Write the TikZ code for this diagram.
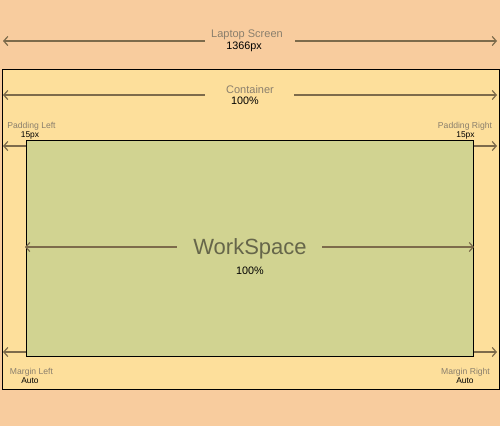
\documentclass[tikz,border=0pt]{standalone}
\usepackage{fontspec}
\setmainfont{Liberation Sans}
\usetikzlibrary{arrows.meta}
\definecolor{screenbg}{HTML}{F8CC9E}
\definecolor{boxbg}{HTML}{FDDF9B}
\definecolor{wsbg}{HTML}{D1D391}
\definecolor{dimcol}{HTML}{7D6B4B}
\definecolor{greytext}{HTML}{8A7F6D}
\definecolor{wstext}{HTML}{66664A}
\begin{document}
\begin{tikzpicture}[x=1pt,y=-1pt,
  dim/.style={draw=dimcol, line width=1.2pt, -{Straight Barb[length=4pt,width=9pt,line width=1.2pt]}},
  gap/.style={inner sep=0pt, minimum height=1pt},
  title/.style={text=greytext, inner sep=0pt, font=\fontsize{11}{12}\selectfont},
  value/.style={text=black, inner sep=0pt, font=\fontsize{10.8}{12}\selectfont},
  small/.style={text=greytext, inner sep=0pt, font=\fontsize{8.6}{10}\selectfont},
  smallval/.style={text=black, inner sep=0pt, font=\fontsize{8.4}{10}\selectfont}]
\fill [screenbg] (0,0) rectangle (500,426);
\useasboundingbox (0,0) rectangle (500,426);
% container and workspace
\node [draw=black, line width=1pt, fill=boxbg, minimum width=497pt, minimum height=320pt, inner sep=0pt] (box) at (250.5,229) {};
\node [draw=black, line width=1pt, fill=wsbg, minimum width=447pt, minimum height=216pt, inner sep=0pt] (ws) at (249.5,248) {};
% laptop screen
\node [title] (screen) at (247,35) {Laptop Screen};
\node [value] (screenval) at (244,46.5) {1366px};
\node [gap, minimum width=90pt] (screengap) at (250,41) {};
\coordinate (screenL) at (3,41);
\coordinate (screenR) at (497,41);
\draw [dim] (screengap.west) -- (screenL);
\draw [dim] (screengap.east) -- (screenR);
% container
\node [title] (boxname) at (250,89.5) {Container};
\node [value] (boxval) at (245,101) {100\%};
\node [gap, minimum width=89pt] (boxgap) at (249.5,95) {};
\coordinate (boxL) at (3,95);
\coordinate (boxR) at (497,95);
\draw [dim] (boxgap.west) -- (boxL);
\draw [dim] (boxgap.east) -- (boxR);
% padding
\node [small] (padlname) at (31.5,126) {Padding Left};
\node [smallval] (padlval) at (30,135) {15px};
\node [small] (padrname) at (465,126) {Padding Right};
\node [smallval] (padrval) at (465.5,135) {15px};
\coordinate (padL) at (3,146);
\coordinate (padR) at (497,146);
\draw [dim] (ws.west |- padL) -- (padL);
\draw [dim] (ws.east |- padR) -- (padR);
% workspace
\node [text=wstext, inner sep=0pt, font=\fontsize{22}{24}\selectfont] (wsname) at (250,248.5) {WorkSpace};
\node [value] (wsval) at (250,271) {100\%};
\node [gap, minimum width=145pt] (wsgap) at (249.5,247) {};
\coordinate (wsL) at (25,247);
\coordinate (wsR) at (474,247);
\draw [dim] (wsgap.west) -- (wsL);
\draw [dim] (wsgap.east) -- (wsR);
% margin
\node [small] (marlname) at (31.5,372) {Margin Left};
\node [smallval] (marlval) at (30,381) {Auto};
\node [small] (marrname) at (465.5,372) {Margin Right};
\node [smallval] (marrval) at (465,381) {Auto};
\coordinate (marL) at (3,352);
\coordinate (marR) at (497,352);
\draw [dim] (ws.west |- marL) -- (marL);
\draw [dim] (ws.east |- marR) -- (marR);
\end{tikzpicture}
\end{document}
